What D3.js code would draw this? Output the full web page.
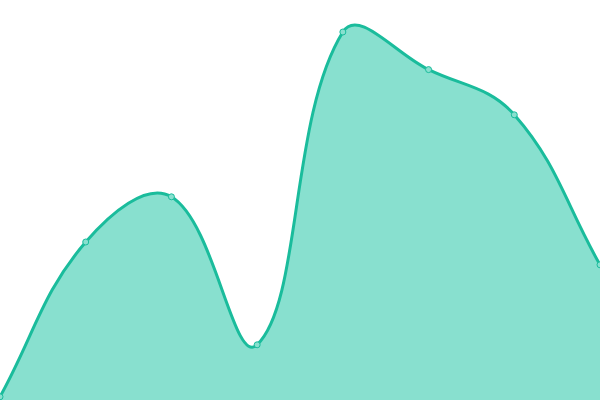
<!DOCTYPE html>
<html><head><meta charset="utf-8">
<script src="https://cdn.jsdelivr.net/npm/d3@7"></script>
<style>html,body{margin:0;padding:0;background:#fff;overflow:hidden}</style>
</head><body>
<svg id="c" width="600" height="400"></svg>
<script>
const categories = ["A","B","C","D","E","F","G","H"];
const values = [0.8, 39.5, 50.8, 13.8, 92, 82.6, 71.3, 33.8];

const W = 600, H = 400;
const svg = d3.select("#c");
const x = d3.scalePoint().domain(categories).range([0, W]);
const y = d3.scaleLinear().domain([0, 100]).range([H, 0]);
const data = categories.map((c, i) => ({c, v: values[i]}));

// Tension-based spline curve (control points along neighbour direction, distance weighted)
function SplineCurve(context, t) { this._context = context; this._t = t; }
SplineCurve.prototype = {
  areaStart() { this._line = 0; },
  areaEnd() { this._line = NaN; },
  lineStart() { this._pts = []; },
  point(px, py) { this._pts.push([+px, +py]); },
  lineEnd() {
    const p = this._pts, n = p.length, c = this._context, t = this._t;
    if (n) {
      if (this._line) c.lineTo(p[0][0], p[0][1]); else c.moveTo(p[0][0], p[0][1]);
      const cpPrev = [], cpNext = [];
      for (let i = 0; i < n; i++) {
        const prev = p[i - 1] || p[i], cur = p[i], next = p[i + 1] || p[i];
        const d01 = Math.hypot(cur[0] - prev[0], cur[1] - prev[1]);
        const d12 = Math.hypot(next[0] - cur[0], next[1] - cur[1]);
        let s01 = d01 / (d01 + d12), s12 = d12 / (d01 + d12);
        if (isNaN(s01)) s01 = 0; if (isNaN(s12)) s12 = 0;
        const fa = t * s01, fb = t * s12;
        cpPrev[i] = [cur[0] - fa * (next[0] - prev[0]), cur[1] - fa * (next[1] - prev[1])];
        cpNext[i] = [cur[0] + fb * (next[0] - prev[0]), cur[1] + fb * (next[1] - prev[1])];
      }
      for (let i = 1; i < n; i++) {
        c.bezierCurveTo(cpNext[i-1][0], cpNext[i-1][1], cpPrev[i][0], cpPrev[i][1], p[i][0], p[i][1]);
      }
    }
    if (this._line || (this._line !== 0 && n === 1)) c.closePath();
    this._line = 1 - this._line;
  }
};
const curve = ctx => new SplineCurve(ctx, 0.4);

svg.append("path").datum(data)
  .attr("fill", "#88e0cf")
  .attr("d", d3.area().curve(curve).x(d => x(d.c)).y0(H).y1(d => y(d.v)));
svg.append("path").datum(data)
  .attr("fill", "none").attr("stroke", "#1abc9c").attr("stroke-width", 3)
  .attr("d", d3.line().curve(curve).x(d => x(d.c)).y(d => y(d.v)));
svg.selectAll("circle").data(data).join("circle")
  .attr("cx", d => x(d.c)).attr("cy", d => y(d.v)).attr("r", 3)
  .attr("fill", "#88e0cf").attr("stroke", "#1abc9c").attr("stroke-width", 1);
</script>
</body></html>
